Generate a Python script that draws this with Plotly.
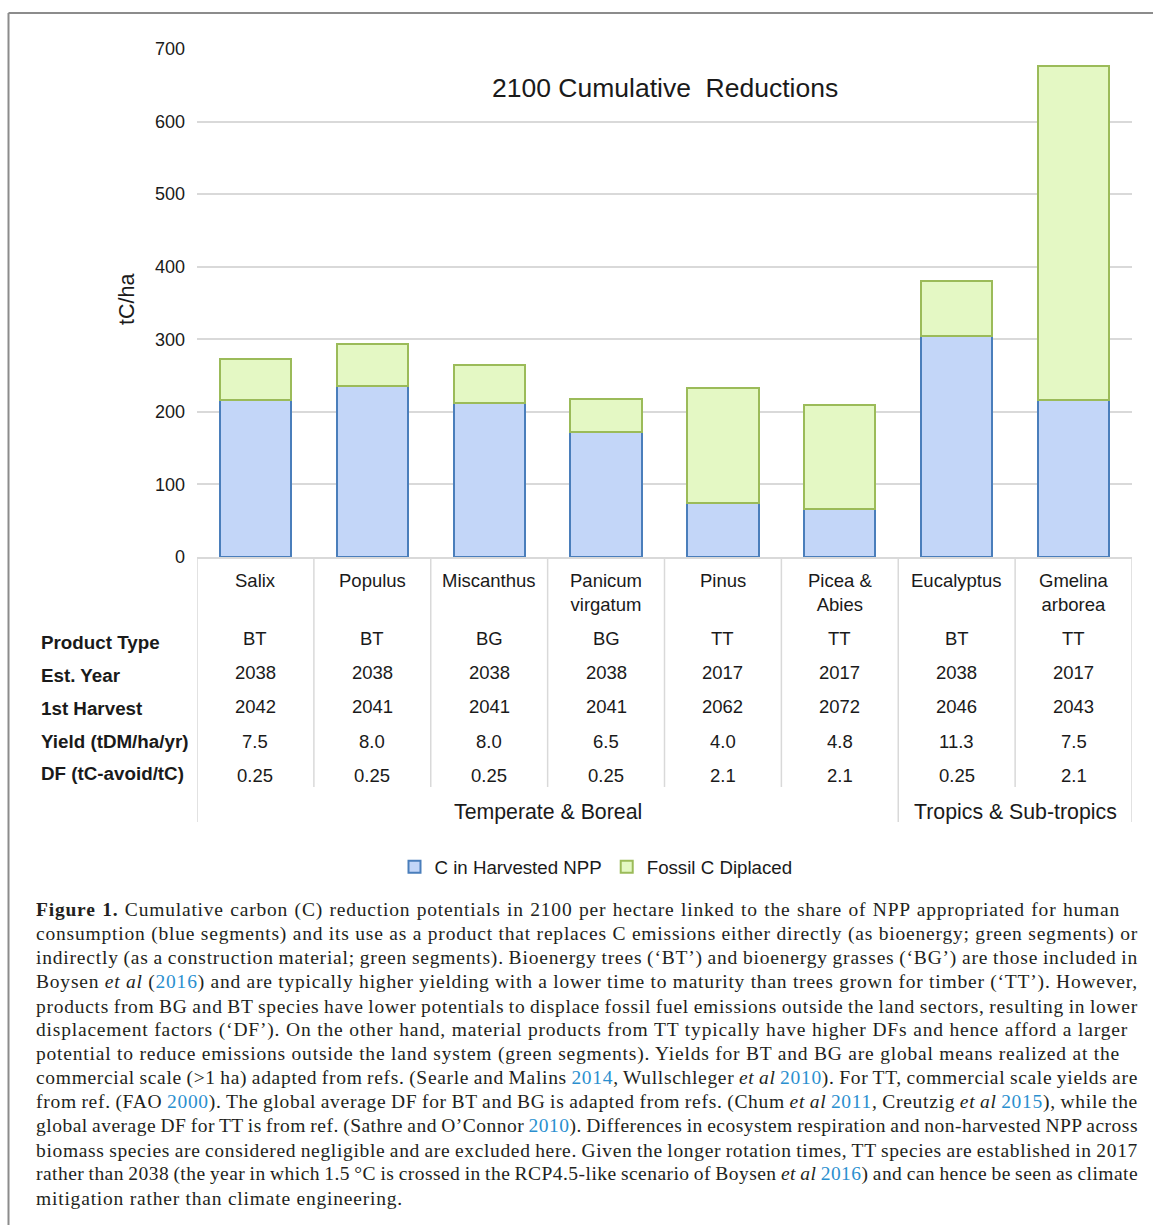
import json
import plotly.graph_objects as go

# ---------------- data ----------------
categories = ["Salix", "Populus", "Miscanthus", "Panicum<br>virgatum", "Pinus",
              "Picea &<br>Abies", "Eucalyptus", "Gmelina<br>arborea"]
c_harvested = [217, 235, 212, 172, 75, 66, 304, 217]
fossil_displaced = [56, 59, 53, 46, 158, 143, 76, 459]

row_labels = ["Product Type", "Est. Year", "1st Harvest", "Yield (tDM/ha/yr)", "DF (tC-avoid/tC)"]
product_type = ["BT", "BT", "BG", "BG", "TT", "TT", "BT", "TT"]
est_year = ["2038", "2038", "2038", "2038", "2017", "2017", "2038", "2017"]
first_harvest = ["2042", "2041", "2041", "2041", "2062", "2072", "2046", "2043"]
yield_vals = ["7.5", "8.0", "8.0", "6.5", "4.0", "4.8", "11.3", "7.5"]
df_vals = ["0.25", "0.25", "0.25", "0.25", "2.1", "2.1", "0.25", "2.1"]
groups = ["Temperate & Boreal", "Tropics & Sub-tropics"]
group_spans = [(0, 5), (6, 7)]

y_ticks = [0, 100, 200, 300, 400, 500, 600, 700]

LINK = "<span style='color:#2a8fcf'>{}</span>"
caption_lines = [
    "<b>Figure 1.</b> Cumulative carbon (C) reduction potentials in 2100 per hectare linked to the share of NPP appropriated for human",
    "consumption (blue segments) and its use as a product that replaces C emissions either directly (as bioenergy; green segments) or",
    "indirectly (as a construction material; green segments). Bioenergy trees (‘BT’) and bioenergy grasses (‘BG’) are those included in",
    "Boysen <i>et al</i> (" + LINK.format("2016") + ") and are typically higher yielding with a lower time to maturity than trees grown for timber (‘TT’). However,",
    "products from BG and BT species have lower potentials to displace fossil fuel emissions outside the land sectors, resulting in lower",
    "displacement factors (‘DF’). On the other hand, material products from TT typically have higher DFs and hence afford a larger",
    "potential to reduce emissions outside the land system (green segments). Yields for BT and BG are global means realized at the",
    "commercial scale (&gt;1 ha) adapted from refs. (Searle and Malins " + LINK.format("2014") + ", Wullschleger <i>et al</i> " + LINK.format("2010") + "). For TT, commercial scale yields are",
    "from ref. (FAO " + LINK.format("2000") + "). The global average DF for BT and BG is adapted from refs. (Chum <i>et al</i> " + LINK.format("2011") + ", Creutzig <i>et al</i> " + LINK.format("2015") + "), while the",
    "global average DF for TT is from ref. (Sathre and O’Connor " + LINK.format("2010") + "). Differences in ecosystem respiration and non-harvested NPP across",
    "biomass species are considered negligible and are excluded here. Given the longer rotation times, TT species are established in 2017",
    "rather than 2038 (the year in which 1.5 °C is crossed in the RCP4.5-like scenario of Boysen <i>et al</i> " + LINK.format("2016") + ") and can hence be seen as climate",
    "mitigation rather than climate engineering.",
]
# right edge (px) of each caption line in the reference (justified text block)
caption_right = [1120, 1138, 1138, 1138, 1138, 1128, 1120, 1138, 1138, 1138, 1138, 1138, 403]

# ---------------- layout geometry ----------------
W, H = 1153, 1225
L, R, T, B = 197, 21, 49, 668
PW = W - L - R
PH = H - T - B
CAP_X = 34


def px2x(px):
    return (px - L) / PW


def px2y(py):
    return (H - B - py) / PH


SANS = "Liberation Sans, Arial, sans-serif"
SERIF = "Liberation Serif, Times New Roman, serif"
TXT = "#1a1a1a"

x_idx = list(range(len(categories)))

fig = go.Figure()
fig.add_trace(go.Bar(
    x=x_idx, y=c_harvested, name="C in Harvested NPP",
    marker=dict(color="#c3d6f8", line=dict(color="#4a7ebb", width=2)),
))
fig.add_trace(go.Bar(
    x=x_idx, y=fossil_displaced, name="Fossil C Diplaced",
    marker=dict(color="#e4f8c4", line=dict(color="#9bbb59", width=2)),
))

annotations = []
shapes = []

# title
annotations.append(dict(text="2100 Cumulative\u00a0 Reductions", x=0.5, xref="paper",
                        y=px2y(88), yref="paper", showarrow=False,
                        font=dict(family=SANS, size=26.5, color=TXT),
                        xanchor="center", yanchor="middle"))
# y-axis title
annotations.append(dict(text="tC/ha", x=px2x(127), xref="paper", y=px2y(300), yref="paper",
                        showarrow=False, textangle=-90,
                        font=dict(family=SANS, size=21.5, color=TXT),
                        xanchor="center", yanchor="middle"))

# category names
for i, c in enumerate(categories):
    annotations.append(dict(text=c, x=i, xref="x", y=px2y(568), yref="paper",
                            showarrow=False, font=dict(family=SANS, size=18.5, color=TXT),
                            xanchor="center", yanchor="top"))

# table rows
rows = [product_type, est_year, first_harvest, yield_vals, df_vals]
label_y = [642, 675, 708, 741, 773]
value_y = [638, 672, 706, 741, 775]
for r, (lab, vals) in enumerate(zip(row_labels, rows)):
    annotations.append(dict(text="<b>" + lab + "</b>", x=px2x(39), xref="paper",
                            y=px2y(label_y[r]), yref="paper", showarrow=False,
                            font=dict(family=SANS, size=18.8, color=TXT),
                            xanchor="left", yanchor="middle"))
    for i, v in enumerate(vals):
        annotations.append(dict(text=v, x=i, xref="x", y=px2y(value_y[r]), yref="paper",
                                showarrow=False, font=dict(family=SANS, size=18.5, color=TXT),
                                xanchor="center", yanchor="middle"))

# group labels
for g, (a, b) in zip(groups, group_spans):
    annotations.append(dict(text=g, x=(a + b) / 2, xref="x", y=px2y(812), yref="paper",
                            showarrow=False, font=dict(family=SANS, size=21.3, color=TXT),
                            xanchor="center", yanchor="middle"))

# separators
group_edges = {group_spans[0][0] - 0.5, group_spans[0][1] + 0.5, group_spans[1][1] + 0.5}
for k in range(len(categories) + 1):
    xe = k - 0.5
    yb = 822 if xe in group_edges else 787
    shapes.append(dict(type="line", xref="x", yref="paper", x0=xe, x1=xe,
                       y0=0, y1=px2y(yb), line=dict(color="#d9d9d9", width=1.5)))

# frame
shapes.append(dict(type="line", xref="paper", yref="paper", x0=px2x(8.5), x1=px2x(1153),
                   y0=px2y(13), y1=px2y(13), line=dict(color="#8c8c8c", width=2)))
shapes.append(dict(type="line", xref="paper", yref="paper", x0=px2x(8.5), x1=px2x(8.5),
                   y0=px2y(13), y1=px2y(1225), line=dict(color="#8c8c8c", width=2)))

# caption
for j, line in enumerate(caption_lines):
    annotations.append(dict(text=line, x=px2x(CAP_X), xref="paper", y=px2y(910 + 24 * j),
                            yref="paper", showarrow=False, align="left",
                            font=dict(family=SERIF, size=19.5, color="#231f20"),
                            xanchor="left", yanchor="middle"))

fig.update_layout(
    width=W, height=H,
    margin=dict(l=L, r=R, t=T, b=B, pad=0),
    barmode="stack", bargap=0.39,
    paper_bgcolor="white", plot_bgcolor="white",
    showlegend=True,
    legend=dict(orientation="h", x=px2x(596), xanchor="center", y=px2y(867), yanchor="middle",
                font=dict(family=SANS, size=18.7, color=TXT), traceorder="normal"),
    xaxis=dict(range=[-0.5, len(categories) - 0.5], showticklabels=False, showgrid=False,
               showline=True, linecolor="#d9d9d9", linewidth=1.5, zeroline=False, ticks=""),
    yaxis=dict(range=[0, 700], tickvals=y_ticks, showgrid=True, gridcolor="#d9d9d9",
               gridwidth=1.5, zeroline=False, showline=False, ticks="",
               ticklabelstandoff=11,
               tickfont=dict(family=SANS, size=18, color=TXT)),
    annotations=annotations, shapes=shapes,
)

widths = [r - CAP_X - 2 for r in caption_right]
post = """
document.body.style.margin = '0';
var targets = %s;
var gd = document.getElementById('{plot_id}');
var texts = Array.prototype.filter.call(gd.querySelectorAll('text.annotation-text'), function(t) {
  return (t.style.fontFamily || '').indexOf('Serif') >= 0;
});
texts.forEach(function(t, i) {
  if (i >= targets.length) return;
  var txt = t.textContent;
  var n = (txt.match(/[ \\u00a0]/g) || []).length;
  var nc = txt.length;
  if (!n) return;
  var ls = 0.8, ws = 0;
  t.style.letterSpacing = ls + 'px';
  for (var k = 0; k < 4; k++) {
    var w = t.getBBox().width;
    ws += (targets[i] - w) / n;
    t.style.wordSpacing = ws + 'px';
  }
  if (ws < -1.0) {
    ws = -1.0;
    t.style.wordSpacing = ws + 'px';
    for (var k2 = 0; k2 < 4; k2++) {
      var w2 = t.getBBox().width;
      ls += (targets[i] - w2) / nc;
      t.style.letterSpacing = ls + 'px';
    }
  }
});
""" % json.dumps(widths)

fig.write_html("out.html", post_script=post, config={"displayModeBar": False})
